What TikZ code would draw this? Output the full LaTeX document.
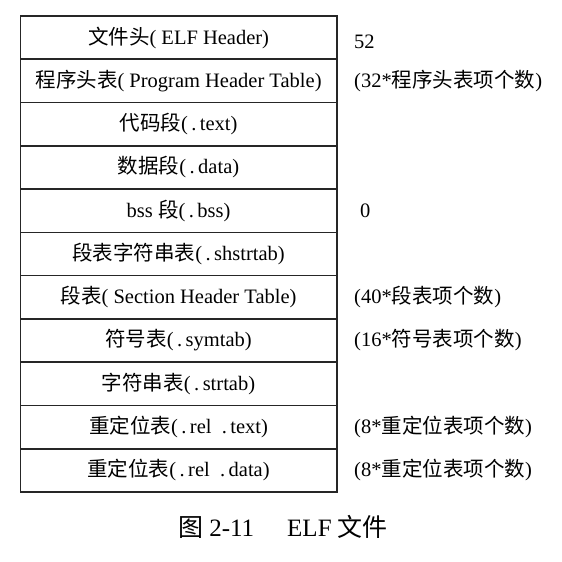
\documentclass[tikz,border=0pt]{standalone}
\usepackage{fontspec}
\setmainfont{Liberation Serif}
\newfontfamily\cjk{Noto Sans CJK SC}
\newcommand{\zh}[1]{{\cjk #1}}
\begin{document}
\begin{tikzpicture}[x=1pt,y=-1pt,
  seg/.style={draw=black!85, line width=1.6pt, minimum width=316.5pt, minimum height=43.27pt,
    inner sep=0pt, outer sep=0pt, anchor=north west, font=\fontsize{20.5}{24}\selectfont},
  note/.style={anchor=west, inner sep=0pt, font=\fontsize{20.5}{24}\selectfont},
  caption/.style={inner sep=0pt, font=\fontsize{25}{30}\selectfont}]
\useasboundingbox[fill=white] (0,0) rectangle (562,562);
% stacked sections of the file, top to bottom
\node[seg] (r1)  at (20.3,16)     {\zh{文件头}( ELF Header)};
\node[seg] (r2)  at (20.3,59.27)  {\zh{程序头表}( Program Header Table)};
\node[seg] (r3)  at (20.3,102.54) {\zh{代码段}(\,.\,text)};
\node[seg] (r4)  at (20.3,145.81) {\zh{数据段}(\,.\,data)};
\node[seg] (r5)  at (20.3,189.08) {bss \zh{段}(\,.\,bss)};
\node[seg] (r6)  at (20.3,232.35) {\zh{段表字符串表}(\,.\,shstrtab)};
\node[seg] (r7)  at (20.3,275.62) {\zh{段表}( Section Header Table)};
\node[seg] (r8)  at (20.3,318.89) {\zh{符号表}(\,.\,symtab)};
\node[seg] (r9)  at (20.3,362.16) {\zh{字符串表}(\,.\,strtab)};
\node[seg] (r10) at (20.3,405.43) {\zh{重定位表}(\,.\,rel\enspace.\,text)};
\node[seg] (r11) at (20.3,448.7)  {\zh{重定位表}(\,.\,rel\enspace.\,data)};
% sizes noted beside the sections
\node[note] (n1)  at ([yshift=-4pt] 354,0 |- r1.center) {52};
\node[note] (n2)  at (354,0 |- r2.center)  {(32*\zh{程序头表项个数})};
\node[note] (n5)  at (360,0 |- r5.center)  {0};
\node[note] (n7)  at (354,0 |- r7.center)  {(40*\zh{段表项个数})};
\node[note] (n8)  at (354,0 |- r8.center)  {(16*\zh{符号表项个数})};
\node[note] (n10) at (354,0 |- r10.center) {(8*\zh{重定位表项个数})};
\node[note] (n11) at (354,0 |- r11.center) {(8*\zh{重定位表项个数})};
\node[caption] (cap) at (283,527) {\zh{图} 2-11\hspace{33pt}ELF \zh{文件}};
\end{tikzpicture}
\end{document}
